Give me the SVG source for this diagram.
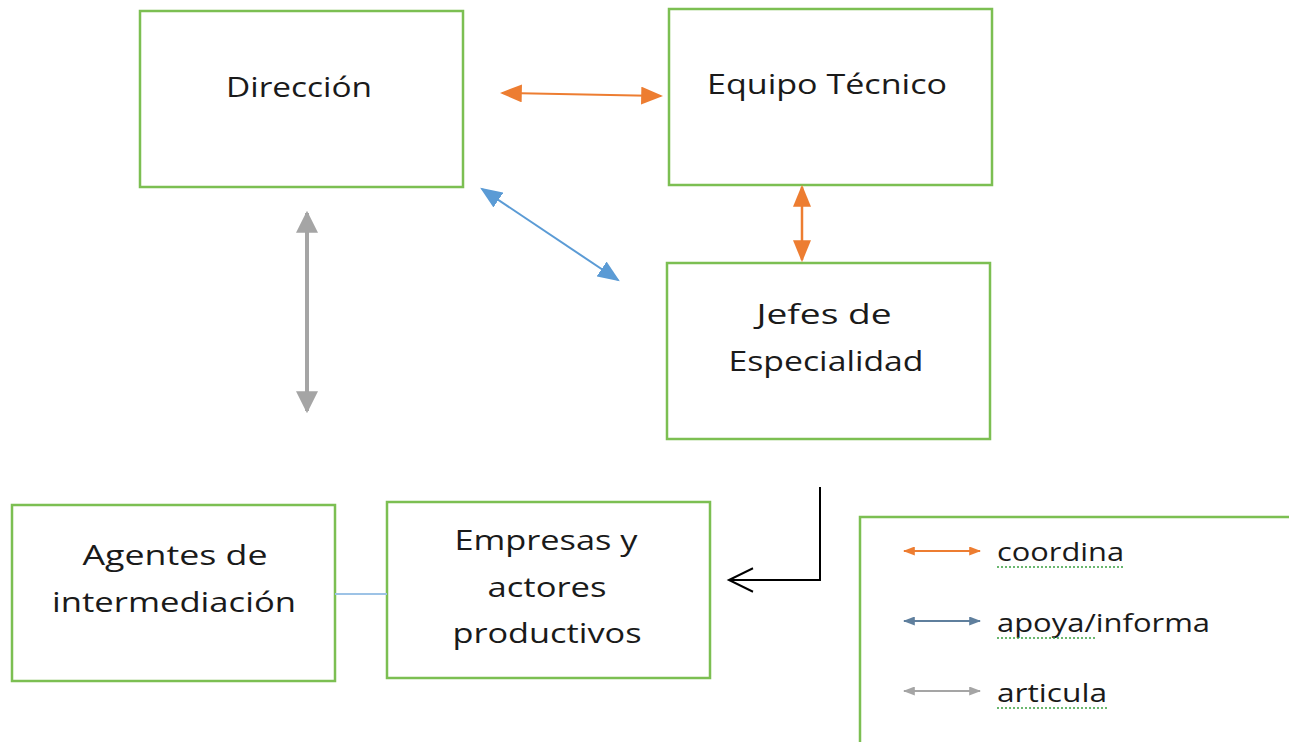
<svg xmlns="http://www.w3.org/2000/svg" width="1289" height="742" viewBox="0 0 1289 742">
<defs>
<marker id="aoBig" viewBox="0 0 10 10" refX="9" refY="5" markerWidth="22" markerHeight="18" markerUnits="userSpaceOnUse" orient="auto-start-reverse" preserveAspectRatio="none"><path d="M0,0 L10,5 L0,10 Z" fill="#ED7D31"/></marker>
<marker id="ab" viewBox="0 0 10 10" refX="9" refY="5" markerWidth="22" markerHeight="18" markerUnits="userSpaceOnUse" orient="auto-start-reverse" preserveAspectRatio="none"><path d="M0,0 L10,5 L0,10 Z" fill="#5B9BD5"/></marker>
<marker id="ag" viewBox="0 0 10 10" refX="9" refY="5" markerWidth="22" markerHeight="22" markerUnits="userSpaceOnUse" orient="auto-start-reverse" preserveAspectRatio="none"><path d="M0,0 L10,5 L0,10 Z" fill="#A5A5A5"/></marker>
<marker id="lo" viewBox="0 0 10 10" refX="9" refY="5" markerWidth="12" markerHeight="9" markerUnits="userSpaceOnUse" orient="auto-start-reverse" preserveAspectRatio="none"><path d="M0,0 L10,5 L0,10 Z" fill="#ED7D31"/></marker>
<marker id="lb" viewBox="0 0 10 10" refX="9" refY="5" markerWidth="12" markerHeight="9" markerUnits="userSpaceOnUse" orient="auto-start-reverse" preserveAspectRatio="none"><path d="M0,0 L10,5 L0,10 Z" fill="#5F7F9D"/></marker>
<marker id="lg" viewBox="0 0 10 10" refX="9" refY="5" markerWidth="12" markerHeight="9" markerUnits="userSpaceOnUse" orient="auto-start-reverse" preserveAspectRatio="none"><path d="M0,0 L10,5 L0,10 Z" fill="#A5A5A5"/></marker>
<marker id="open" viewBox="0 0 10 10" refX="10" refY="5" markerWidth="24" markerHeight="26" markerUnits="userSpaceOnUse" orient="auto" preserveAspectRatio="none" overflow="visible"><path d="M0,0.5 L10,5 L0,9.5" fill="none" stroke="#000" stroke-width="0.8" stroke-linejoin="miter"/></marker>
</defs>
<style>
.box{fill:#fff;stroke:#7CBF52;stroke-width:2.5}
.t{font-family:"Open Sans","Noto Sans","DejaVu Sans",sans-serif;font-size:28px;fill:#1a1a1a;text-anchor:middle}
.lt{font-family:"Open Sans","Noto Sans","DejaVu Sans",sans-serif;font-size:25px;fill:#1a1a1a}
.sq{fill:none;stroke:#3aa040;stroke-width:1.5;stroke-dasharray:2 2}
</style>
<rect width="1289" height="742" fill="#fff"/>
<g id="direccion"><rect class="box" x="140" y="11" width="323" height="176"/><text class="t" x="299" y="97" textLength="146" lengthAdjust="spacingAndGlyphs">Dirección</text></g>
<g id="equipo-tecnico"><rect class="box" x="669" y="9" width="323" height="176"/><text class="t" x="827" y="94" textLength="240" lengthAdjust="spacingAndGlyphs">Equipo Técnico</text></g>
<g id="jefes"><rect class="box" x="667" y="263" width="323" height="176"/><text class="t" x="824" y="324" textLength="135" lengthAdjust="spacingAndGlyphs">Jefes de</text><text class="t" x="826" y="371" textLength="195" lengthAdjust="spacingAndGlyphs">Especialidad</text></g>
<g id="agentes"><rect class="box" x="12" y="505" width="323" height="176"/><text class="t" x="175" y="565" textLength="185" lengthAdjust="spacingAndGlyphs">Agentes de</text><text class="t" x="174" y="612" textLength="244" lengthAdjust="spacingAndGlyphs">intermediación</text></g>
<g id="empresas"><rect class="box" x="387" y="502" width="323" height="176"/><text class="t" x="546" y="550" textLength="183" lengthAdjust="spacingAndGlyphs">Empresas y</text><text class="t" x="547" y="597" textLength="119" lengthAdjust="spacingAndGlyphs">actores</text><text class="t" x="547" y="643" textLength="189" lengthAdjust="spacingAndGlyphs">productivos</text></g>
<g id="connectors" fill="none">
<line x1="502" y1="93" x2="661" y2="96" stroke="#ED7D31" stroke-width="2" marker-start="url(#aoBig)" marker-end="url(#aoBig)"/>
<line x1="482" y1="189" x2="618" y2="280" stroke="#5B9BD5" stroke-width="2" marker-start="url(#ab)" marker-end="url(#ab)"/>
<line x1="802" y1="187" x2="802" y2="260" stroke="#ED7D31" stroke-width="2.5" marker-start="url(#aoBig)" marker-end="url(#aoBig)"/>
<line x1="307" y1="213" x2="307" y2="411" stroke="#A5A5A5" stroke-width="4" marker-start="url(#ag)" marker-end="url(#ag)"/>
<polyline points="820,487 820,580 729,580" stroke="#000" stroke-width="2" marker-end="url(#open)"/>
<line x1="335" y1="594" x2="387" y2="594" stroke="#9DC3E6" stroke-width="2"/>
</g>
<g id="legend">
<rect class="box" x="860" y="517" width="440" height="240"/>
<line x1="904" y1="551" x2="980" y2="551" stroke="#ED7D31" stroke-width="2" marker-start="url(#lo)" marker-end="url(#lo)"/>
<line x1="904" y1="621" x2="980" y2="621" stroke="#5F7F9D" stroke-width="2" marker-start="url(#lb)" marker-end="url(#lb)"/>
<line x1="904" y1="691" x2="980" y2="691" stroke="#A5A5A5" stroke-width="2" marker-start="url(#lg)" marker-end="url(#lg)"/>
<text class="lt" x="997" y="561" textLength="127" lengthAdjust="spacingAndGlyphs">coordina</text>
<text class="lt" x="997" y="632" textLength="213" lengthAdjust="spacingAndGlyphs">apoya/informa</text>
<text class="lt" x="997" y="702" textLength="110" lengthAdjust="spacingAndGlyphs">articula</text>
<line class="sq" x1="997" y1="567" x2="1123" y2="567"/>
<line class="sq" x1="997" y1="638" x2="1096" y2="638"/>
<line class="sq" x1="997" y1="708" x2="1107" y2="708"/>
</g>
</svg>
